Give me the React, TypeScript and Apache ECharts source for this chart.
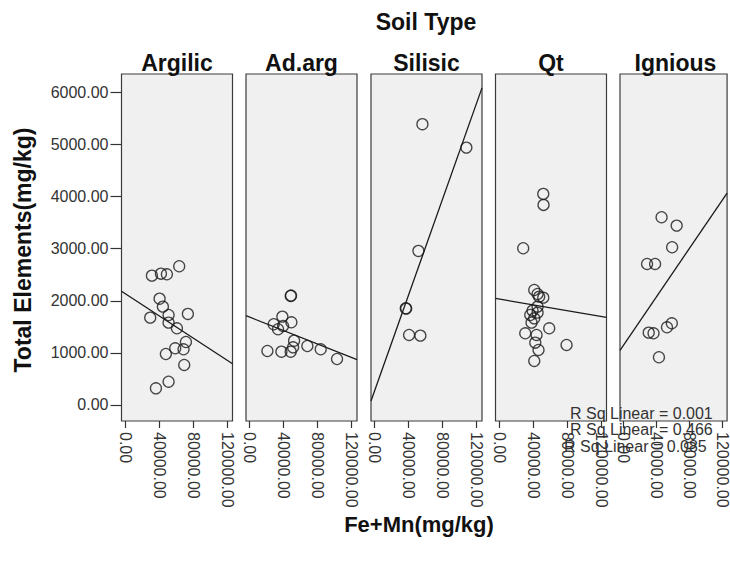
import React, { useEffect, useRef } from "react";
import * as echarts from "echarts";

// Soil types, one panel each
const soilTypes = ["Argilic", "Ad.arg", "Silisic", "Qt", "Ignious"];

// Fe+Mn (mg/kg) and Total Elements (mg/kg) per soil type
const argilicFeMn = [31400, 42000, 49000, 63500, 40400, 44300, 29400, 51000, 73700, 51000, 60800, 71400, 58800, 68600, 47800, 69400, 51000, 36100];
const argilicTotal = [2482, 2520, 2508, 2662, 2040, 1887, 1676, 1727, 1747, 1580, 1472, 1209, 1088, 1069, 979, 768, 447, 320];

const adargFeMn = [48200, 48600, 38400, 49000, 28200, 33300, 39200, 52200, 67800, 83500, 20800, 37300, 48200, 51000, 102700];
const adargTotal = [2092, 2100, 1695, 1587, 1549, 1453, 1516, 1234, 1132, 1069, 1036, 1023, 1023, 1107, 883];

const silisicFeMn = [56100, 107800, 51400, 36500, 37000, 40400, 53700];
const silisicTotal = [5388, 4939, 2956, 1856, 1850, 1344, 1331];

const qtFeMn = [51800, 52100, 28200, 41200, 45100, 47000, 51800, 45100, 39200, 45100, 36500, 41200, 38000, 58800, 30600, 43900, 42400, 79200, 46200, 41200];
const qtTotal = [4050, 3839, 3008, 2207, 2130, 2079, 2060, 1887, 1810, 1772, 1727, 1663, 1580, 1472, 1376, 1344, 1196, 1152, 1056, 845];

const igniousFeMn = [46300, 64700, 59200, 28600, 38400, 58800, 52900, 30600, 36500, 43100];
const igniousTotal = [3602, 3442, 3027, 2706, 2706, 1568, 1491, 1388, 1376, 916];

// Linear fit per soil type: Total = intercept + slope * FeMn
const fitIntercepts = [2137, 1685, 280, 2032, 1151];
const fitSlopes = [-0.01065, -0.00645, 0.046, -0.00278, 0.0231];

const rSqLabels = ["R Sq Linear = 0.001", "R Sq Linear = 0.466", "R Sq Linear = 0.085"];

const xTicks = [0, 40000, 80000, 120000];
const yTicks = [0, 1000, 2000, 3000, 4000, 5000, 6000];

const panelFeMn = [argilicFeMn, adargFeMn, silisicFeMn, qtFeMn, igniousFeMn];
const panelTotal = [argilicTotal, adargTotal, silisicTotal, qtTotal, igniousTotal];

const X_MIN = -4400;
const X_MAX = 126200;
const Y_MIN = -307;
const Y_MAX = 6351;

const PANEL_LEFTS = [121.5, 246, 371, 495.5, 620];
const PANEL_W = 111;
const PANEL_TOP = 74;
const PANEL_H = 347;

export default function App() {
  const ref = useRef<HTMLDivElement>(null);

  useEffect(() => {
    if (!ref.current) return;
    const chart = echarts.init(ref.current, null, { renderer: "svg" });

    const grids = PANEL_LEFTS.map((left) => ({
      left,
      top: PANEL_TOP,
      width: PANEL_W,
      height: PANEL_H,
      show: true,
      backgroundColor: "#f0f0f0",
      borderColor: "#3c3c3c",
      borderWidth: 1.2,
      containLabel: false,
    }));

    const xAxes = PANEL_LEFTS.map((_, i) => ({
      type: "value",
      gridIndex: i,
      position: "bottom",
      min: X_MIN,
      max: X_MAX,
      axisLine: { show: false, onZero: false },
      splitLine: { show: false },
      axisTick: {
        show: true,
        inside: false,
        customValues: xTicks,
        length: 7,
        lineStyle: { color: "#333", width: 1.2 },
      },
      axisLabel: {
        show: true,
        customValues: xTicks,
        rotate: -90,
        margin: 11,
        fontSize: 16,
        fontFamily: "Liberation Sans, Arial, sans-serif",
        color: "#333",
        formatter: (v: number) => v.toFixed(2),
      },
    }));

    const yAxes = PANEL_LEFTS.map((_, i) => ({
      type: "value",
      gridIndex: i,
      position: "left",
      min: Y_MIN,
      max: Y_MAX,
      axisLine: { show: false, onZero: false },
      splitLine: { show: false },
      axisTick: {
        show: i === 0,
        inside: false,
        customValues: yTicks,
        length: 11,
        lineStyle: { color: "#333", width: 1.2 },
      },
      axisLabel: {
        show: i === 0,
        customValues: yTicks,
        margin: 13,
        fontSize: 16,
        fontFamily: "Liberation Sans, Arial, sans-serif",
        color: "#333",
        formatter: (v: number) => v.toFixed(2),
      },
    }));

    const series: any[] = [];
    soilTypes.forEach((_, i) => {
      const a = fitIntercepts[i];
      const b = fitSlopes[i];
      series.push({
        type: "line",
        xAxisIndex: i,
        yAxisIndex: i,
        data: [
          [X_MIN, a + b * X_MIN],
          [X_MAX, a + b * X_MAX],
        ],
        showSymbol: false,
        clip: true,
        lineStyle: { color: "#1a1a1a", width: 1.3 },
        silent: true,
      });
      series.push({
        type: "scatter",
        xAxisIndex: i,
        yAxisIndex: i,
        data: panelFeMn[i].map((x, k) => [x, panelTotal[i][k]]),
        symbol: "circle",
        symbolSize: 11,
        itemStyle: {
          color: "rgba(0,0,0,0)",
          borderColor: "#1a1a1a",
          borderWidth: 1.3,
        },
        silent: true,
      });
    });

    const titleFont = "Liberation Sans, Arial, sans-serif";
    const graphic: any[] = [
      {
        type: "text",
        x: 426,
        y: 22,
        style: {
          text: "Soil Type",
          font: `bold 23px ${titleFont}`,
          fill: "#111",
          align: "center",
          verticalAlign: "middle",
        },
      },
      ...soilTypes.map((name, i) => ({
        type: "text",
        x: PANEL_LEFTS[i] + PANEL_W / 2,
        y: 63,
        style: {
          text: name,
          font: `bold 23px ${titleFont}`,
          fill: "#111",
          align: "center",
          verticalAlign: "middle",
        },
      })),
      {
        type: "text",
        x: 23,
        y: 250,
        rotation: Math.PI / 2,
        style: {
          text: "Total Elements(mg/kg)",
          font: `bold 23px ${titleFont}`,
          fill: "#111",
          align: "center",
          verticalAlign: "middle",
        },
      },
      {
        type: "text",
        x: 419,
        y: 524,
        style: {
          text: "Fe+Mn(mg/kg)",
          font: `bold 22px ${titleFont}`,
          fill: "#111",
          align: "center",
          verticalAlign: "middle",
        },
      },
      ...rSqLabels.map((t, k) => ({
        type: "text",
        x: k === 2 ? 564 : 570,
        y: 413 + k * 16.5,
        z: 100,
        style: {
          text: t,
          font: `16px ${titleFont}`,
          fill: "#333",
          align: "left",
          verticalAlign: "middle",
        },
      })),
    ];

    chart.setOption({
      animation: false,
      backgroundColor: "#ffffff",
      grid: grids,
      xAxis: xAxes,
      yAxis: yAxes,
      series,
      graphic,
    });

    return () => chart.dispose();
  }, []);

  return (
    <div
      ref={ref}
      style={{ position: "fixed", left: 0, top: 0, width: 730, height: 561 }}
    />
  );
}
